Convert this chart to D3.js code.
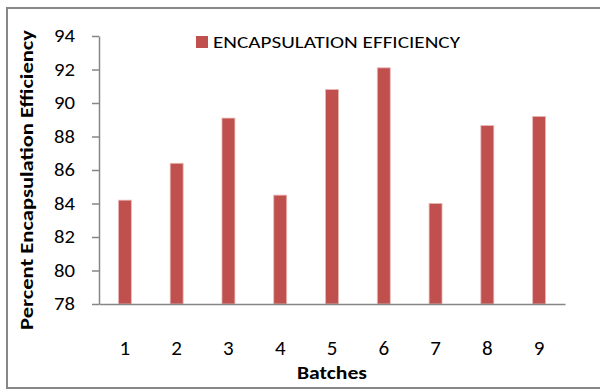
<!DOCTYPE html>
<html><head><meta charset="utf-8">
<script src="https://cdn.jsdelivr.net/npm/d3@7"></script>
<style>body{margin:0;background:#fff}svg{display:block}text{font-family:Carlito,Lato,"Open Sans",sans-serif;fill:#000}</style>
</head><body><svg id="c" width="600" height="390"></svg>
<script>
const categories = ["1","2","3","4","5","6","7","8","9"];
const efficiency = [84.2, 86.4, 89.1, 84.5, 90.8, 92.1, 84.0, 88.65, 89.2];
const yTicks = [78, 80, 82, 84, 86, 88, 90, 92, 94];
const seriesName = "ENCAPSULATION EFFICIENCY";
const xTitle = "Batches";
const yTitle = "Percent Encapsulation Efficiency";

const svg = d3.select("#c");
svg.append("rect").attr("x",7).attr("y",8).attr("width",620).attr("height",380)
  .attr("fill","none").attr("stroke","#878787").attr("stroke-width",2);

const m = {l:99, r:565, t:36, b:304};
const x = d3.scaleBand().domain(categories).range([m.l, m.r]).paddingInner(0.75).paddingOuter(0.375);
const y = d3.scaleLinear().domain([78,94]).range([m.b, m.t]);

// y axis
const ya = svg.append("g").attr("transform",`translate(${m.l},0)`)
  .call(d3.axisLeft(y).tickValues(yTicks).tickSize(7).tickSizeOuter(0).tickPadding(17));
ya.select(".domain").attr("stroke","#868686").attr("stroke-width",1.5);
ya.selectAll(".tick line").attr("stroke","#868686").attr("stroke-width",1.5);
ya.selectAll(".tick text").style("font-size","18px").attr("fill","#000")
  .attr("textLength",21).attr("lengthAdjust","spacingAndGlyphs");

// bars
svg.append("g").selectAll("rect").data(efficiency).join("rect")
  .attr("x",(d,i)=>x(categories[i]))
  .attr("width",x.bandwidth())
  .attr("y",d=>y(d))
  .attr("height",d=>y(78)-y(d))
  .attr("fill","#C0504D")
  .attr("stroke","#E8B8B6").attr("stroke-width",0.8);

// x axis
const xa = svg.append("g").attr("transform",`translate(0,${m.b})`)
  .call(d3.axisBottom(x).tickSize(0).tickPadding(51));
xa.select(".domain").attr("stroke","#868686").attr("stroke-width",1.5);
xa.selectAll(".tick text").style("font-size","21px").attr("fill","#000").attr("dy",0);

// titles
svg.append("text").attr("x",(m.l+m.r)/2).attr("y",379).attr("text-anchor","middle")
  .style("font-size","17px").style("font-weight","bold")
  .attr("textLength",70).attr("lengthAdjust","spacingAndGlyphs").text(xTitle);
svg.append("text").attr("transform",`translate(33,180) rotate(-90)`)
  .attr("text-anchor","middle").style("font-size","17px").style("font-weight","bold")
  .attr("textLength",300).attr("lengthAdjust","spacingAndGlyphs").text(yTitle);

// legend
svg.append("rect").attr("x",196).attr("y",36).attr("width",12).attr("height",12).attr("fill","#C0504D");
svg.append("text").attr("x",213).attr("y",48).style("font-size","17px")
  .attr("textLength",247).attr("lengthAdjust","spacingAndGlyphs").text(seriesName);
</script></body></html>
